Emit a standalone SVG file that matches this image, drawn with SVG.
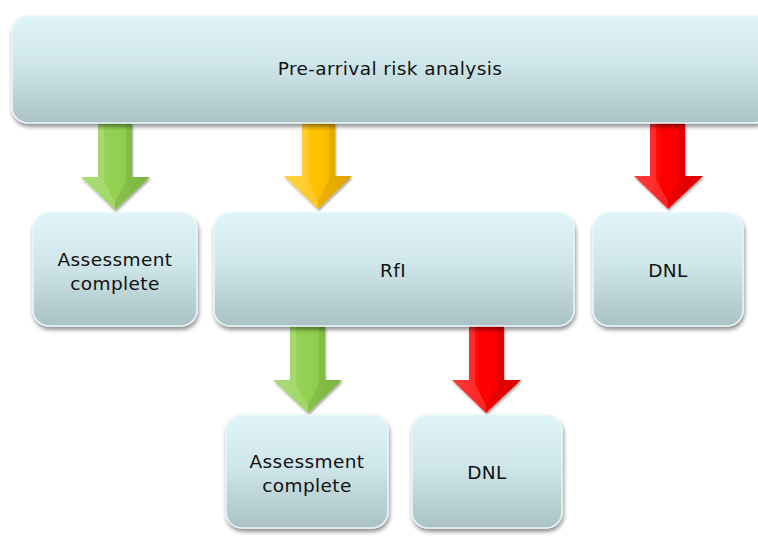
<svg xmlns="http://www.w3.org/2000/svg" width="758" height="536" viewBox="0 0 758 536">
<defs>
<linearGradient id="box" x1="0" y1="0" x2="0" y2="1">
<stop offset="0" stop-color="#dff5f9"/>
<stop offset="0.45" stop-color="#cfe6ea"/>
<stop offset="1" stop-color="#abc2c5"/>
</linearGradient>
<linearGradient id="gG" x1="0" y1="0" x2="1" y2="0">
<stop offset="0" stop-color="#9ed860"/>
<stop offset="0.5" stop-color="#92d050"/>
<stop offset="1" stop-color="#84c444"/>
</linearGradient>
<linearGradient id="gY" x1="0" y1="0" x2="1" y2="0">
<stop offset="0" stop-color="#ffcc20"/>
<stop offset="0.5" stop-color="#ffc000"/>
<stop offset="1" stop-color="#f0b000"/>
</linearGradient>
<linearGradient id="gR" x1="0" y1="0" x2="1" y2="0">
<stop offset="0" stop-color="#ff1a1a"/>
<stop offset="0.5" stop-color="#ff0000"/>
<stop offset="1" stop-color="#ea0000"/>
</linearGradient>
<filter id="sh" x="-10%" y="-10%" width="120%" height="130%">
<feGaussianBlur in="SourceAlpha" stdDeviation="2"/>
<feOffset dx="1" dy="3" result="b"/>
<feComponentTransfer><feFuncA type="linear" slope="0.45"/></feComponentTransfer>
<feMerge><feMergeNode/><feMergeNode in="SourceGraphic"/></feMerge>
</filter>
<filter id="ash" x="-20%" y="-10%" width="140%" height="130%">
<feGaussianBlur in="SourceAlpha" stdDeviation="1.2"/>
<feOffset dx="0.5" dy="1.5"/>
<feComponentTransfer><feFuncA type="linear" slope="0.35"/></feComponentTransfer>
<feMerge><feMergeNode/><feMergeNode in="SourceGraphic"/></feMerge>
</filter>
</defs>
<style>
.box{fill:url(#box);stroke:#e8f6f8;stroke-width:1.5;filter:url(#sh)}
.t{font-family:"DejaVu Sans","Liberation Sans",sans-serif;font-size:18.5px;letter-spacing:0.4px;fill:#111;text-anchor:middle}
.hl{fill:#ffffff;opacity:0.14}
.dk{fill:#000;opacity:0.07}
</style>
<rect width="758" height="536" fill="#ffffff"/>

<g id="connectors">
<g filter="url(#ash)">
<polygon points="98,123 132,123 132,177 150,177 115,210 81,177 98,177" fill="url(#gG)"/>
<polygon points="98,123 104,123 104,181 115,202 115,210 81,177 98,177" class="hl"/>
<polygon points="126,123 132,123 132,177 150,177 115,210 115,202 126,181" class="dk"/>
</g>
<g filter="url(#ash)">
<polygon points="302,123 335,123 335,176 352,176 318,209 284,176 302,176" fill="url(#gY)"/>
<polygon points="302,123 308,123 308,180 318,201 318,209 284,176 302,176" class="hl"/>
<polygon points="329,123 335,123 335,176 352,176 318,209 318,201 329,180" class="dk"/>
</g>
<g filter="url(#ash)">
<polygon points="650,123 685,123 685,176 703,176 668,209 634,176 650,176" fill="url(#gR)"/>
<polygon points="650,123 656,123 656,180 668,201 668,209 634,176 650,176" class="hl"/>
<polygon points="679,123 685,123 685,176 703,176 668,209 668,201 679,180" class="dk"/>
</g>
<g filter="url(#ash)">
<polygon points="290,326 325,326 325,380 342,380 308,413 273,380 290,380" fill="url(#gG)"/>
<polygon points="290,326 296,326 296,384 308,405 308,413 273,380 290,380" class="hl"/>
<polygon points="319,326 325,326 325,380 342,380 308,413 308,405 319,384" class="dk"/>
</g>
<g filter="url(#ash)">
<polygon points="469,326 504,326 504,380 521,380 486,413 452,380 469,380" fill="url(#gR)"/>
<polygon points="469,326 475,326 475,384 486,405 486,413 452,380 469,380" class="hl"/>
<polygon points="498,326 504,326 504,380 521,380 486,413 486,405 498,384" class="dk"/>
</g>
</g>

<g id="pre-arrival">
<rect class="box" x="12" y="16" width="758" height="107" rx="16"/>
<text class="t" x="390" y="75">Pre-arrival risk analysis</text>
</g>
<g id="assess1">
<rect class="box" x="33" y="213" width="164" height="113" rx="16"/>
<text class="t" x="115" y="266">Assessment</text>
<text class="t" x="115" y="290">complete</text>
</g>
<g id="rfi">
<rect class="box" x="214" y="213" width="360" height="113" rx="16"/>
<text class="t" x="393" y="277">RfI</text>
</g>
<g id="dnl1">
<rect class="box" x="593" y="213" width="150" height="113" rx="16"/>
<text class="t" x="668" y="277">DNL</text>
</g>
<g id="assess2">
<rect class="box" x="226" y="415" width="162" height="113" rx="16"/>
<text class="t" x="307" y="468">Assessment</text>
<text class="t" x="307" y="492">complete</text>
</g>
<g id="dnl2">
<rect class="box" x="412" y="415" width="150" height="113" rx="16"/>
<text class="t" x="487" y="479">DNL</text>
</g>
</svg>
